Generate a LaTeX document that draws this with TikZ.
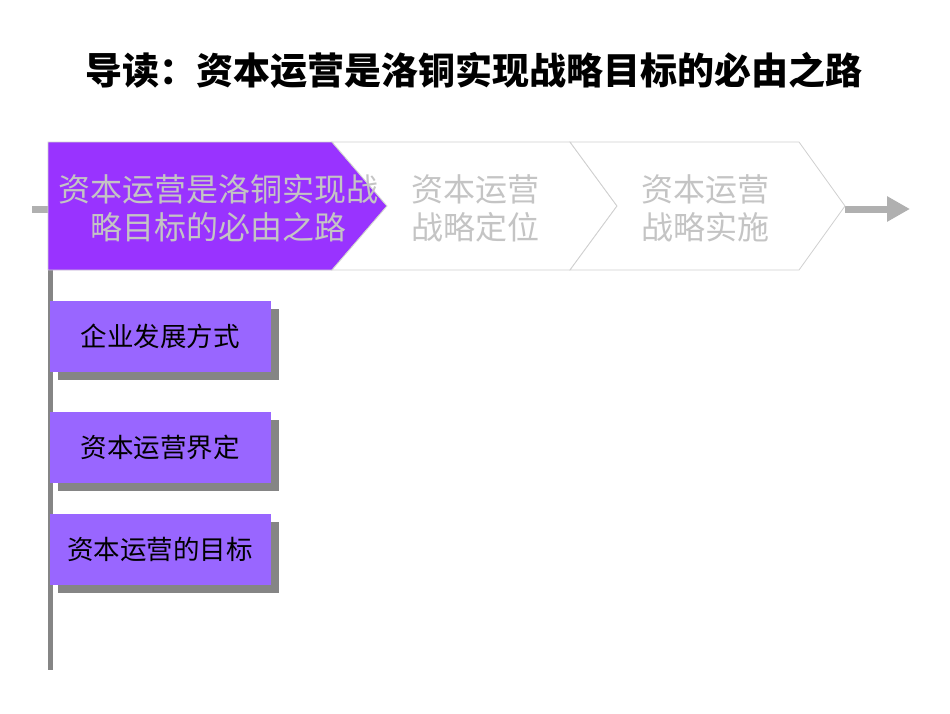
\documentclass[tikz,border=0pt]{standalone}
\usepackage{fontspec}
\newfontfamily\cjk{Noto Sans CJK SC}
\usetikzlibrary{shadows,arrows.meta}
\definecolor{stageviolet}{HTML}{9933FF}
\definecolor{topicviolet}{HTML}{9966FF}
\definecolor{stagegray}{HTML}{C4C4C4}
\definecolor{railgray}{HTML}{858585}

\tikzset{
  stagetext/.style={align=center, text=stagegray, font=\cjk\fontsize{32}{38}\selectfont},
  stageframe/.style={draw=stagegray!80, line width=0.8pt},
  topicbox/.style={fill=topicviolet, minimum width=221pt, minimum height=71pt,
    font=\cjk\fontsize{26.5}{30}\selectfont, text=black,
    drop shadow={shadow xshift=8pt, shadow yshift=-8pt, fill=railgray, opacity=1}}
}

\begin{document}
\begin{tikzpicture}[x=1pt,y=-1pt]
  \useasboundingbox (0,0) rectangle (950,713);
  % Titel
  \node[font=\cjk\bfseries\fontsize{37}{40}\selectfont] (title) at (474,70)
    {导读：资本运营是洛铜实现战略目标的必由之路};

  % Leiste links und Pfeil rechts
  \coordinate (stubstart) at (32,209);
  \coordinate (stubend) at (48,209);
  \coordinate (tip3) at (845,209);
  \coordinate (arrowend) at (910,209);
  \draw[line width=7pt, stagegray!90!black] (stubstart) -- (stubend);
  \draw[line width=7pt, stagegray!90!black, -{Triangle[length=23pt,width=24pt]}] (tip3) -- (arrowend);
  \coordinate (railtop) at (50,270);
  \coordinate (railbottom) at (50,670);
  \draw[line width=5pt, railgray] (railtop) -- (railbottom);

  % Phasen
  \filldraw[stageframe, fill=stageviolet] (48,142) -- (332,142) -- (387,206) -- (332,270) -- (48,270) -- cycle;
  \filldraw[stageframe, fill=white] (332,142) -- (570,142) -- (617,206) -- (570,270) -- (332,270) -- (387,206) -- cycle;
  \filldraw[stageframe, fill=white] (570,142) -- (799,142) -- (845,206) -- (799,270) -- (570,270) -- (617,206) -- cycle;
  \node[stagetext] (stage1) at (218,208) {资本运营是洛铜实现战\\略目标的必由之路};
  \node[stagetext] (stage2) at (475,208) {资本运营\\战略定位};
  \node[stagetext] (stage3) at (705,208) {资本运营\\战略实施};

  % Themen
  \node[topicbox] (topic1) at (160,336) {企业发展方式};
  \node[topicbox] (topic2) at (160,447) {资本运营界定};
  \node[topicbox] (topic3) at (160,549) {资本运营的目标};
\end{tikzpicture}
\end{document}
